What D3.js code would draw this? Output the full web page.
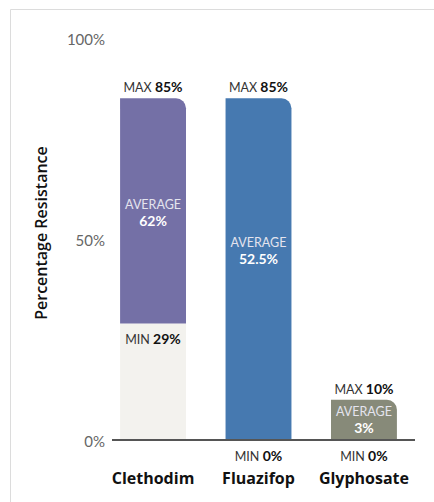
<!DOCTYPE html>
<html>
<head>
<meta charset="utf-8">
<script src="https://cdn.jsdelivr.net/npm/d3@7"></script>
<style>
  html, body { margin: 0; padding: 0; background: #fff; }
  svg { display: block; }
</style>
</head>
<body>
<svg id="chart" width="434" height="502"></svg>
<script>
// Herbicide resistance ranges (percent of samples)
const categories = ["Clethodim", "Fluazifop", "Glyphosate"];
const minValues = [29, 0, 0];
const avgValues = [62, 52.5, 3];
const maxValues = [85, 85, 10];
const yTicks = [0, 50, 100];

const barColors = ["#7470a6", "#4679b0", "#878a79"];
const lowColor = "#f3f2ee";

const svg = d3.select("#chart");
const W = 434, H = 502;

// light frame along the top and left edges
svg.append("path")
  .attr("d", `M10.5,${H} V9.5 H${W}`)
  .attr("fill", "none")
  .attr("stroke", "#dcdcdc")
  .attr("stroke-width", 1);

const x = d3.scaleBand()
  .domain(categories)
  .range([99, 418])
  .paddingInner(0.375)
  .paddingOuter(0.2);

const y = d3.scaleLinear()
  .domain([0, 100])
  .range([440, 38]);

const color = d3.scaleOrdinal(categories, barColors);

// bar outline with a rounded top-right corner
function barPath(x0, w, yTop, yBottom, r) {
  r = Math.min(r, (yBottom - yTop));
  return `M${x0},${yBottom} V${yTop} H${x0 + w - r} A${r},${r} 0 0 1 ${x0 + w},${yTop + r} V${yBottom} Z`;
}

const data = categories.map((c, i) => ({
  cat: c, min: minValues[i], avg: avgValues[i], max: maxValues[i]
}));

const g = svg.append("g");

// lower band: 0 to min
g.selectAll("rect.low")
  .data(data.filter(d => d.min > 0))
  .join("rect")
  .attr("class", "low")
  .attr("x", d => x(d.cat))
  .attr("width", x.bandwidth())
  .attr("y", d => y(d.min))
  .attr("height", d => y(0) - y(d.min))
  .attr("fill", lowColor);

// upper band: min to max
g.selectAll("path.range")
  .data(data)
  .join("path")
  .attr("class", "range")
  .attr("d", d => barPath(x(d.cat), x.bandwidth(), y(d.max), y(d.min), 10))
  .attr("fill", d => color(d.cat));

// y axis labels
const yAxis = d3.axisLeft(y).tickValues(yTicks).tickSize(0).tickPadding(0).tickFormat(d => d + "%");
svg.append("g")
  .attr("transform", "translate(105,0)")
  .call(yAxis)
  .call(s => s.select(".domain").remove())
  .call(s => s.selectAll("text")
    .attr("font-family", "Lato, sans-serif")
    .attr("font-size", 15)
    .attr("fill", "#666")
    .attr("dy", "0.4em"));

// baseline
svg.append("line")
  .attr("x1", 112).attr("x2", 415)
  .attr("y1", y(0)).attr("y2", y(0))
  .attr("stroke", "#555")
  .attr("stroke-width", 2.2);

// axis title
svg.append("text")
  .attr("transform", "translate(47,233) rotate(-90)")
  .attr("text-anchor", "middle")
  .attr("font-family", "'Open Sans', sans-serif")
  .attr("font-weight", 600)
  .attr("font-size", 16)
  .attr("fill", "#111")
  .text("Percentage Resistance");

// labelled value: small caps word then bold figure
function twoPart(sel, word, value, wordColor, valueColor) {
  sel.append("tspan")
    .attr("font-size", 12.5)
    .attr("fill", wordColor)
    .text(word + " ");
  sel.append("tspan")
    .attr("font-size", 14)
    .attr("font-weight", 700)
    .attr("fill", valueColor)
    .text(value + "%");
}

const labels = svg.append("g")
  .attr("font-family", "Lato, sans-serif")
  .attr("text-anchor", "middle");

// MAX labels above each bar
labels.selectAll("text.max")
  .data(data)
  .join("text")
  .attr("class", "max")
  .attr("x", d => x(d.cat) + x.bandwidth() / 2)
  .attr("y", d => y(d.max) - 6)
  .each(function(d) { twoPart(d3.select(this), "MAX", d.max, "#333", "#111"); });

// MIN labels just below the min level
labels.selectAll("text.min")
  .data(data)
  .join("text")
  .attr("class", "min")
  .attr("x", d => x(d.cat) + x.bandwidth() / 2)
  .attr("y", d => y(d.min) + 21)
  .each(function(d) { twoPart(d3.select(this), "MIN", d.min, "#333", "#111"); });

// AVERAGE labels inside the bars: word line and value line
const avgRows = labels.selectAll("g.avg")
  .data(data)
  .join("g")
  .attr("class", "avg")
  .attr("transform", d => {
    const b = Math.min(y(d.avg) + 18, y(0) - 24);
    return `translate(${x(d.cat) + x.bandwidth() / 2},${b})`;
  });
avgRows.append("text")
  .attr("font-size", 12.5)
  .attr("fill", "#e4e4ee")
  .text("AVERAGE");
avgRows.append("text")
  .attr("y", 17)
  .attr("font-size", 14)
  .attr("font-weight", 700)
  .attr("fill", "#fff")
  .text(d => d.avg + "%");

// category labels
svg.append("g")
  .selectAll("text")
  .data(categories)
  .join("text")
  .attr("x", d => x(d) + x.bandwidth() / 2)
  .attr("y", 484)
  .attr("text-anchor", "middle")
  .attr("font-family", "'Open Sans', sans-serif")
  .attr("font-weight", 700)
  .attr("font-size", 16)
  .attr("fill", "#111")
  .text(d => d);
</script>
</body>
</html>
